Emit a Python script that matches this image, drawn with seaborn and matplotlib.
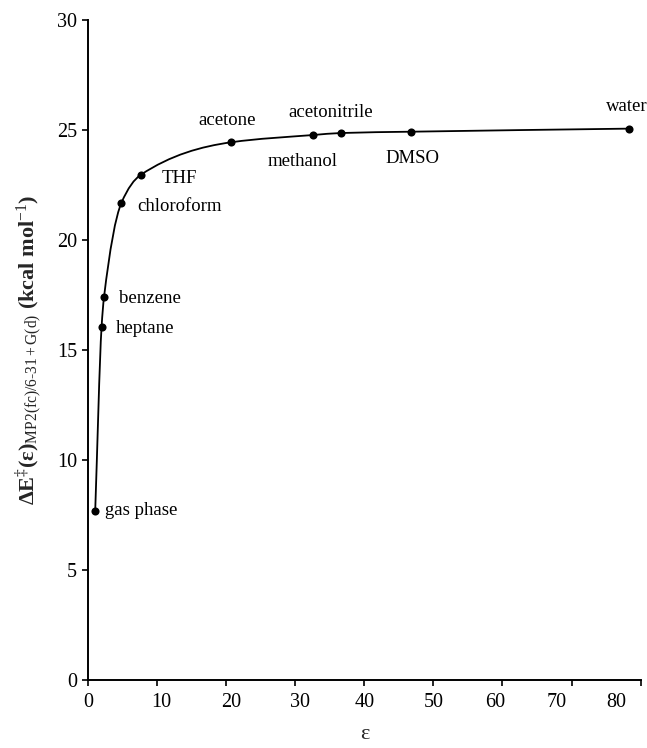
import numpy as np
import pandas as pd
import matplotlib
matplotlib.use("Agg")
import matplotlib.pyplot as plt
from matplotlib.path import Path
from matplotlib.patches import PathPatch
from matplotlib.transforms import ScaledTranslation
import seaborn as sns

# ---- data ----
solvents = ["gas phase", "heptane", "benzene", "chloroform", "THF",
            "acetone", "methanol", "acetonitrile", "DMSO", "water"]
epsilon = [1.0, 1.92, 2.27, 4.8, 7.6, 20.7, 32.6, 36.6, 46.7, 78.4]
delta_e = [7.7, 16.05, 17.4, 21.7, 22.97, 24.45, 24.78, 24.87, 24.93, 25.07]
x_ticks = [0, 10, 20, 30, 40, 50, 60, 70, 80]
y_ticks = [0, 5, 10, 15, 20, 25, 30]

# label offsets (pixels) and alignment: styling only
label_style = {
    "gas phase":    (10, 0, "left"),
    "heptane":      (14, -1, "left"),
    "benzene":      (15, -1, "left"),
    "chloroform":   (16, -4, "left"),
    "THF":          (21, -4, "left"),
    "acetone":      (-4, 22, "center"),
    "methanol":     (-11, -26, "center"),
    "acetonitrile": (-10, 21, "center"),
    "DMSO":         (2, -27, "center"),
    "water":        (-3, 22, "center"),
}
# horizontal nudges (pixels) of the x tick labels, as printed in the reference
x_label_nudge = [0, 4, 5, 5, 0, 0, -7, -15, -24]

df = pd.DataFrame({"solvent": solvents, "eps": epsilon, "dE": delta_e})

sns.set_theme(style="ticks")
plt.rcParams["font.family"] = ["Liberation Serif", "DejaVu Serif"]
plt.rcParams["mathtext.fontset"] = "custom"
plt.rcParams["mathtext.rm"] = "Liberation Serif"
plt.rcParams["mathtext.it"] = "Liberation Serif:italic"
plt.rcParams["mathtext.bf"] = "Liberation Serif:bold"

fig = plt.figure(figsize=(6.47, 7.48), dpi=100)
ax = fig.add_axes([0.1365, 0.0909, 0.8535, 0.8821])

# smooth monotone curve through the points (cubic Hermite drawn as Bezier)
x = np.asarray(epsilon, float)
y = np.asarray(delta_e, float)
h = np.diff(x)
d = np.diff(y) / h
m = np.zeros_like(x)
m[0] = d[0]
m[-1] = d[-1]
for k in range(1, len(x) - 1):
    if d[k - 1] * d[k] > 0:
        w1 = 2 * h[k] + h[k - 1]
        w2 = h[k] + 2 * h[k - 1]
        m[k] = (w1 + w2) / (w1 / d[k - 1] + w2 / d[k])
verts = [(x[0], y[0])]
codes = [Path.MOVETO]
for k in range(len(x) - 1):
    verts += [(x[k] + h[k] / 3, y[k] + m[k] * h[k] / 3),
              (x[k + 1] - h[k] / 3, y[k + 1] - m[k + 1] * h[k] / 3),
              (x[k + 1], y[k + 1])]
    codes += [Path.CURVE4] * 3
ax.add_patch(PathPatch(Path(verts, codes), facecolor="none",
                       edgecolor="black", lw=1.3, zorder=2))

sns.scatterplot(data=df, x="eps", y="dE", ax=ax, color="black", s=34,
                edgecolor="black", linewidth=0, zorder=3, legend=False)

for name, ex, ey in zip(solvents, epsilon, delta_e):
    dx, dy, ha = label_style[name]
    ax.annotate(name, (ex, ey), xytext=(dx, dy), textcoords="offset pixels",
                ha=ha, va="center", fontsize=13.5, color="black")

ax.set_xlim(0, 80)
ax.set_ylim(0, 30)
ax.set_xticks(x_ticks)
ax.set_yticks(y_ticks)
ax.tick_params(axis="both", direction="out", length=4.5, width=1.2,
               labelsize=14.5, colors="black")
ax.tick_params(axis="x", pad=5)
for s in ["left", "bottom"]:
    ax.spines[s].set_linewidth(1.4)
    ax.spines[s].set_color("black")
sns.despine(ax=ax)

fig.canvas.draw()
for lbl, nd in zip(ax.get_xticklabels(), x_label_nudge):
    lbl.set_transform(lbl.get_transform() +
                      ScaledTranslation(nd / 100, 0, fig.dpi_scale_trans))

ax.set_xlabel("ε", fontsize=16, labelpad=9)
ax.set_ylabel(r"ΔE$^{\ddagger}$(ε)$_{\rm MP2(fc)/6\text{-}31+G(d)}$ (kcal mol$^{-1}$)",
              fontsize=16, fontweight="bold", labelpad=9)

fig.savefig("out.png", dpi=100)
